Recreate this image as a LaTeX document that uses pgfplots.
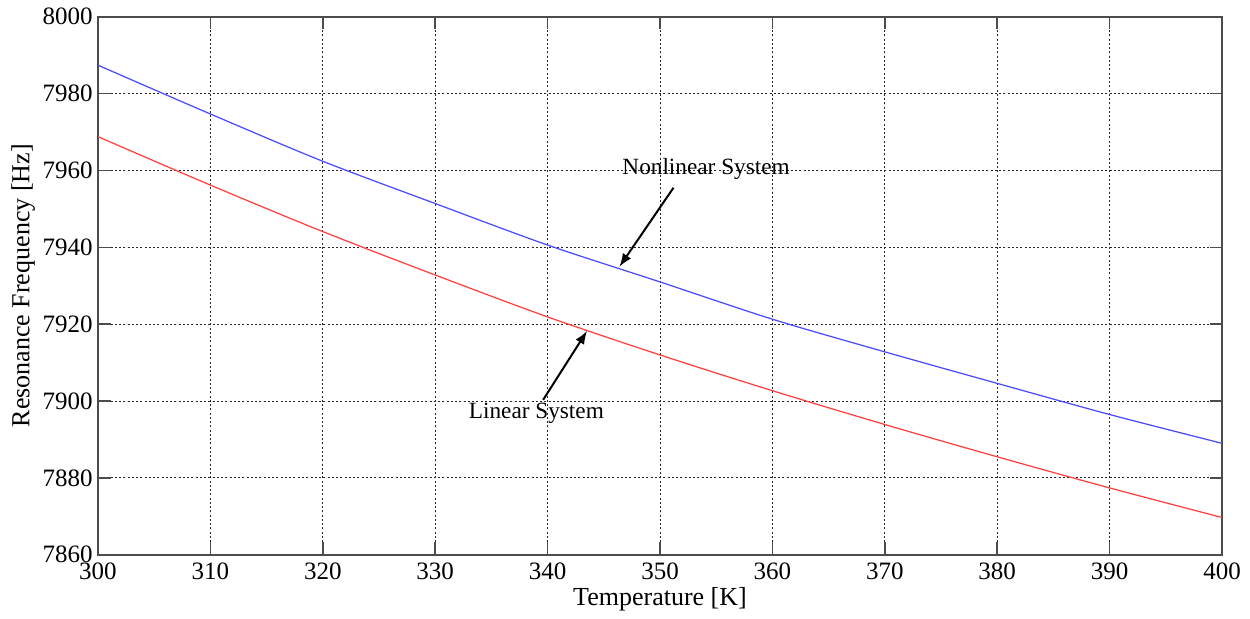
\documentclass[border=0pt]{standalone}
\usepackage{pgfplots}
\pgfplotsset{compat=1.18}
\usepackage{fontspec}
\setmainfont{Liberation Serif}
\begin{document}
\begin{tikzpicture}
\begin{axis}[
  scale only axis,
  width=449.6pt, height=215.2pt,
  xmin=300, xmax=400, ymin=7860, ymax=8000,
  xtick={300,310,...,400}, ytick={7860,7880,...,8000},
  xticklabels={300,310,320,330,340,350,360,370,380,390,400},
  yticklabels={7860,7880,7900,7920,7940,7960,7980,8000},
  ticklabel style={font=\fontsize{10}{12}\selectfont},
  grid=major,
  grid style={black!85, dash pattern=on 0.8pt off 0.9pt, line width=0.4pt},
  axis line style={black!70, line width=0.6pt},
  tick style={black!70, line width=0.6pt},
  major tick length=5pt,
  tick align=inside,
  xtick pos=both, ytick pos=both,
  xlabel={Temperature [K]},
  ylabel={Resonance Frequency [Hz]},
  label style={font=\fontsize{10.4}{12}\selectfont},
  xlabel style={at={(axis description cs:0.5,0)}, anchor=center, yshift=-17.6pt},
  ylabel style={at={(axis description cs:0,0.5)}, anchor=center, yshift=29.9pt},
  xticklabel style={yshift=0.3pt},
  yticklabel style={xshift=1.4pt},
  clip=false,
]
\addplot[blue!70, line width=0.5pt, smooth] coordinates {
(300,7987.4) (310,7974.7) (320,7962.4) (330,7951.4) (340,7940.6) (350,7931.0)
(360,7921.3) (370,7912.8) (380,7904.6) (390,7896.5) (400,7889.0)};
\addplot[red!75, line width=0.5pt, smooth] coordinates {
(300,7968.8) (310,7956.2) (320,7944.1) (330,7932.8) (340,7921.9) (350,7912.0)
(360,7902.7) (370,7893.9) (380,7885.5) (390,7877.4) (400,7869.7)};
\node[font=\fontsize{9.3}{11}\selectfont] at (axis cs:354.1,7960.5) {Nonlinear System};
\draw[-latex, line width=0.8pt] (axis cs:351.2,7955.5) -- (axis cs:346.4,7935.0);
\node[font=\fontsize{9.3}{11}\selectfont] at (axis cs:339.0,7896.8) {Linear System};
\draw[-latex, line width=0.8pt] (axis cs:339.6,7900.3) -- (axis cs:343.5,7918.2);
\path (rel axis cs:0,0) ++(-39.2pt,-24pt);
\path (rel axis cs:1,1) ++(11.2pt,6pt);
\end{axis}
\end{tikzpicture}
\end{document}
